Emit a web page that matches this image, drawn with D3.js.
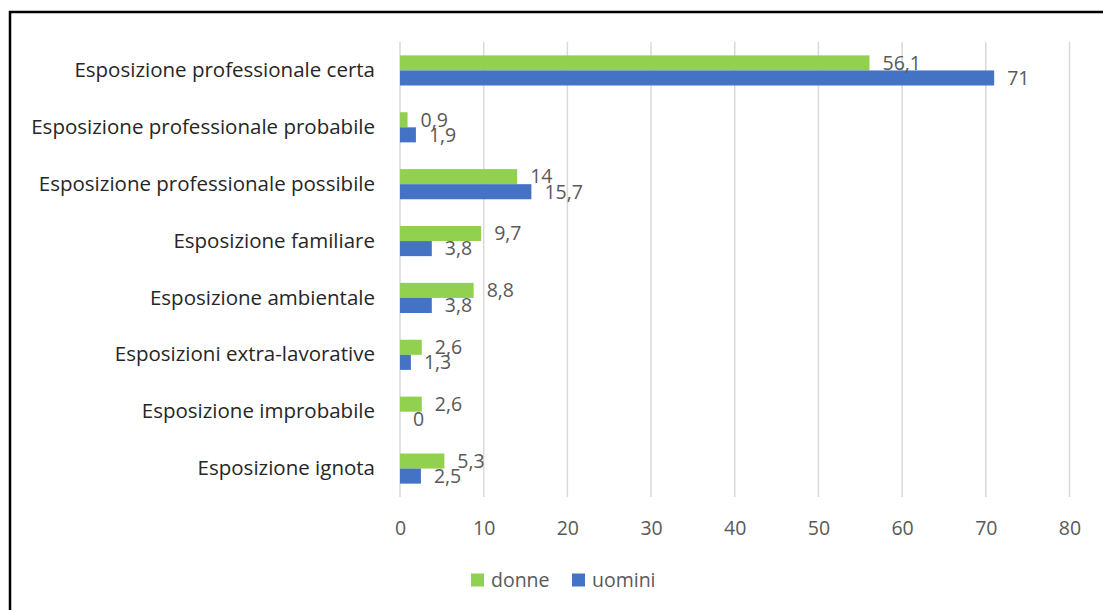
<!DOCTYPE html>
<html>
<head>
<meta charset="utf-8">
<script src="https://cdn.jsdelivr.net/npm/d3@7"></script>
<style>
  body { margin: 0; background: #fff; }
  text { font-family: "Open Sans", "Noto Sans", sans-serif; }
</style>
</head>
<body>
<div id="chart-area"></div>
<script>
// Data
const categories = [
	"Esposizione professionale certa",
	"Esposizione professionale probabile",
	"Esposizione professionale possibile",
	"Esposizione familiare",
	"Esposizione ambientale",
	"Esposizioni extra-lavorative",
	"Esposizione improbabile",
	"Esposizione ignota"
]
const donne = [56.1, 0.9, 14, 9.7, 8.8, 2.6, 2.6, 5.3]
const uomini = [71, 1.9, 15.7, 3.8, 3.8, 1.3, 0, 2.5]
const seriesNames = ["donne", "uomini"]
const tickValues = [0, 10, 20, 30, 40, 50, 60, 70, 80]

const COLORS = { donne: "#92D050", uomini: "#4472C4" }

// Set up canvas
const svg = d3.select("#chart-area").append("svg")
	.attr("width", 1103)
	.attr("height", 610)

// Frame
svg.append("rect")
	.attr("x", 10)
	.attr("y", 12)
	.attr("width", 1110)
	.attr("height", 620)
	.attr("fill", "none")
	.attr("stroke", "#000")
	.attr("stroke-width", 2.5)

const PLOT = { LEFT: 400, RIGHT: 1069.5, TOP: 42, BOTTOM: 497 }

// Scales
const x = d3.scaleLinear()
	.domain([0, 80])
	.range([PLOT.LEFT, PLOT.RIGHT])

const y = d3.scaleBand()
	.domain(categories)
	.range([PLOT.TOP, PLOT.BOTTOM])
	.paddingInner(0.47)
	.paddingOuter(0.235)

const ySub = d3.scaleBand()
	.domain(seriesNames)
	.range([0, y.bandwidth()])

// Grid lines
svg.append("g")
	.selectAll("line")
	.data(tickValues)
	.enter().append("line")
	.attr("x1", d => x(d))
	.attr("x2", d => x(d))
	.attr("y1", PLOT.TOP)
	.attr("y2", PLOT.BOTTOM)
	.attr("stroke", "#d9d9d9")
	.attr("stroke-width", 1.5)

// x axis
const xAxisCall = d3.axisBottom(x)
	.tickValues(tickValues)
	.tickSize(0)
	.tickPadding(0)
const xAxis = svg.append("g")
	.attr("transform", `translate(0, ${PLOT.BOTTOM + 38})`)
	.call(xAxisCall)
xAxis.select(".domain").remove()
xAxis.selectAll("text")
	.attr("dy", 0)
	.attr("font-size", "19.5px")
	.attr("fill", "#595959")
	.style("font-family", "\"Open Sans\", sans-serif")

// y axis labels
const yAxisCall = d3.axisLeft(y)
	.tickSize(0)
	.tickPadding(0)
const yAxis = svg.append("g")
	.attr("transform", `translate(${PLOT.LEFT - 25}, 0)`)
	.call(yAxisCall)
yAxis.select(".domain").remove()
yAxis.selectAll("text")
	.attr("font-size", "20.5px")
	.attr("fill", "#262626")
	.style("font-family", "\"Open Sans\", sans-serif")

// Bars
const rows = categories.map((c, i) => ({ category: c, donne: donne[i], uomini: uomini[i] }))

const groups = svg.append("g")
	.selectAll("g")
	.data(rows)
	.enter().append("g")
	.attr("transform", d => `translate(0, ${y(d.category)})`)

groups.selectAll("rect")
	.data(d => seriesNames.map(s => ({ key: s, value: d[s] })))
	.enter().append("rect")
	.attr("x", x(0))
	.attr("y", d => ySub(d.key))
	.attr("width", d => x(d.value) - x(0))
	.attr("height", ySub.bandwidth())
	.attr("fill", d => COLORS[d.key])

// Value labels
groups.selectAll("text")
	.data(d => seriesNames.map(s => ({ key: s, value: d[s] })))
	.enter().append("text")
	.attr("x", d => x(d.value) + 13)
	.attr("y", d => ySub(d.key) + ySub.bandwidth() / 2)
	.attr("dy", "0.35em")
	.attr("font-size", "19.5px")
	.attr("fill", "#595959")
	.text(d => String(d.value).replace(".", ","))

// Legend
const legend = svg.append("g")
	.attr("transform", `translate(471, 580)`)

const legendX = [0, 101]
seriesNames.forEach((s, i) => {
	const row = legend.append("g")
		.attr("transform", `translate(${legendX[i]}, 0)`)
	row.append("rect")
		.attr("y", -6.5)
		.attr("width", 13)
		.attr("height", 13)
		.attr("fill", COLORS[s])
	row.append("text")
		.attr("x", 20)
		.attr("dy", "0.35em")
		.attr("font-size", "19.5px")
		.attr("fill", "#595959")
		.text(s)
})
</script>
</body>
</html>
